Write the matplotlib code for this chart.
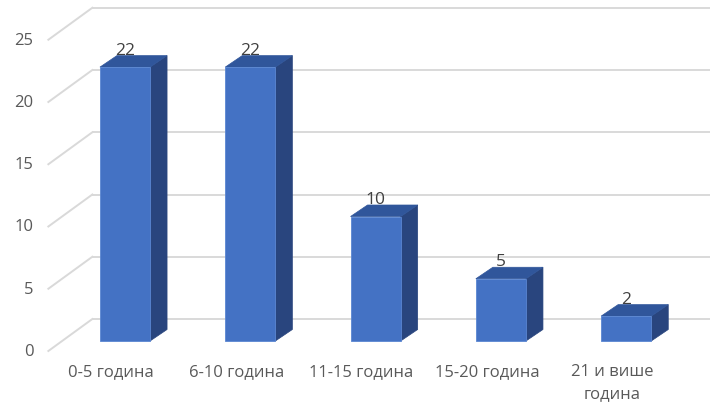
import matplotlib
matplotlib.use("Agg")
import matplotlib.pyplot as plt
from matplotlib.patches import Polygon, Rectangle

categories = ["0-5 година", "6-10 година", "11-15 година", "15-20 година", "21 и више\nгодина"]
values = [22, 22, 10, 5, 2]
yticks = [0, 5, 10, 15, 20, 25]

plt.rcParams['font.family'] = ['Open Sans', 'DejaVu Sans']

W, H = 710, 410
fig = plt.figure(figsize=(W / 100, H / 100), dpi=100)
ax = fig.add_axes([0, 0, 1, 1])
ax.set_axis_off()

# layout (pixels)
x0px, stepx = 125.0, 125.3
y0px_from_top, scale = 342.0, 12.45
ax.set_xlim(-x0px / stepx, (W - x0px) / stepx)
ax.set_ylim(-(H - y0px_from_top) / scale, y0px_from_top / scale)

def px(dx, dy):
    return dx / stepx, dy / scale

bdx, bdy = px(17, 11.5)      # bar depth
kdx, kdy = px(30, 22)        # back wall offset
fdx, fdy = px(-14, -10)      # front plane offset
xleft = -0.5
xright = (W - x0px) / stepx + 1

grid_c = '#d9d9d9'
for v in yticks:
    ax.plot([xleft + kdx, xright], [v + kdy, v + kdy], color=grid_c, lw=1.4, zorder=1, solid_capstyle='butt')
    ax.plot([xleft + fdx, xleft + kdx], [v + fdy, v + kdy], color=grid_c, lw=1.4, zorder=1)
    ax.text(xleft + fdx - 15 / stepx, v + fdy, str(v), ha='right', va='center',
            fontsize=12, color='#595959')

bw = 0.4
front_c, top_c, side_c = '#4472C4', '#30569B', '#29457E'
for i, (cat, v) in enumerate(zip(categories, values)):
    l, r = i - bw / 2, i + bw / 2
    ax.add_patch(Polygon([(r, 0), (r + bdx, bdy), (r + bdx, v + bdy), (r, v)],
                         closed=True, facecolor=side_c, edgecolor=side_c, lw=0.5, zorder=3))
    ax.add_patch(Polygon([(l, v), (r, v), (r + bdx, v + bdy), (l + bdx, v + bdy)],
                         closed=True, facecolor=top_c, edgecolor=top_c, lw=0.5, zorder=3))
    ax.add_patch(Rectangle((l, 0), bw, v, facecolor=front_c, edgecolor='#5a86d2', lw=0.6, zorder=4))
    ax.text(i, v + bdy + 2 / scale, str(v), ha='center', va='baseline',
            fontsize=12.5, color='#404040', zorder=5)
    ax.text(i + fdx, fdy - 12 / scale, cat, ha='center', va='top', fontsize=12,
            color='#595959', linespacing=1.5)

fig.savefig('out.png', dpi=100)
